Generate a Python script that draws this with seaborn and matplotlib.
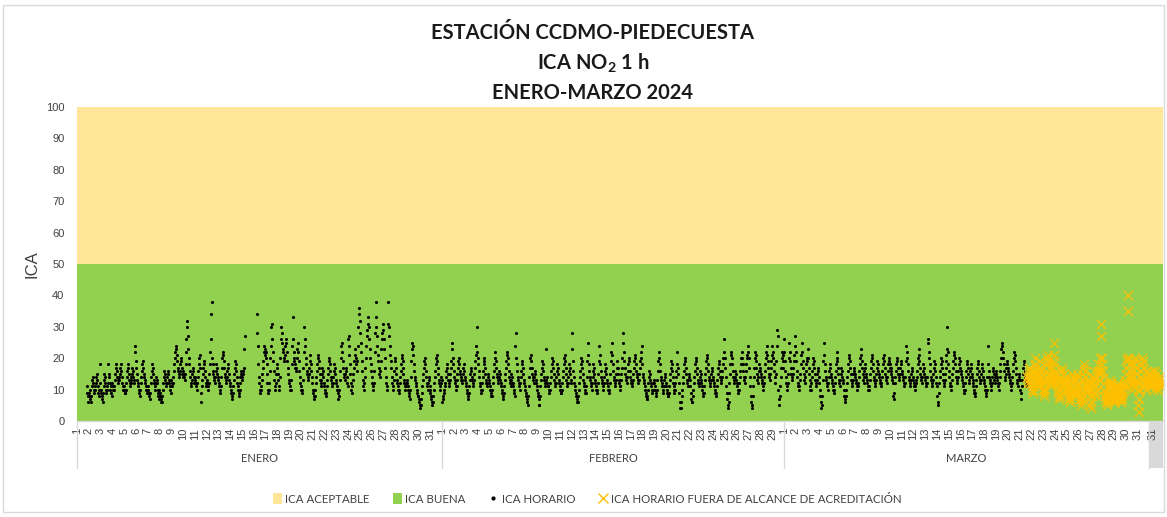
import numpy as np
import pandas as pd
import matplotlib
matplotlib.use("Agg")
import matplotlib.pyplot as plt
import matplotlib.transforms as mtransforms
from matplotlib.patches import Patch, Rectangle
from matplotlib.lines import Line2D
import seaborn as sns

# ---- Hourly ICA NO2 values, one string of 24 hours per day ('.' = no data) ----
enero = [
    ". . . . . . . . . . . . . . . . . . . . 11 9 8 6",
    "9 8 10 7 6 8 11 13 14 12 10 9 11 10 12 14 15 13 11 9 10 8 12 18",
    "10 9 8 7 6 9 11 13 15 14 12 10 9 11 10 12 18 15 14 12 10 11 9 8",
    "12 11 10 10 11 13 15 17 18 16 14 13 12 13 14 15 17 18 16 14 12 11 10 11",
    "10 9 9 10 12 14 16 18 17 15 13 12 11 12 14 13 15 17 16 14 13 12 24 22",
    "19 17 15 13 12 11 10 9 8 10 12 14 16 18 19 17 15 14 13 12 11 10 9 10",
    "11 10 9 8 7 9 12 14 16 18 17 15 13 12 11 10 12 14 13 12 10 9 8 7",
    "10 9 8 7 6 6 8 10 12 14 16 15 13 12 11 12 14 16 15 13 12 11 10 9",
    "13 12 11 12 14 16 18 20 22 24 23 21 19 17 16 15 14 16 18 20 19 17 15 14",
    "16 15 14 13 15 18 22 26 30 32 27 23 20 18 16 14 12 11 13 15 17 16 14 12",
    "14 13 12 11 10 12 14 16 18 20 21 17 6 9 11 13 15 17 19 18 16 14 12 11",
    "13 12 11 10 12 15 18 22 26 34 38 20 18 16 15 14 13 12 14 16 18 17 15 14",
    "13 12 11 10 9 11 14 17 20 22 21 19 17 15 14 13 12 14 16 18 17 15 13 12",
    "11 10 9 8 7 9 11 13 15 17 19 18 16 14 12 11 10 9 8 10 12 14 16 15",
    "13 14 15 16 17 23 27 . . . . . . . . . . . . . . . . .",
    ". . . . . . 34 28 24 18 14 12 10 9 10 11 13 15 17 19 22 24 23 21",
    "22 20 18 15 12 10 9 10 12 16 20 24 30 31 26 22 19 16 13 11 10 12 15 18",
    "17 15 13 11 10 14 20 26 30 28 25 23 22 20 19 21 24 26 25 22 19 17 15 13",
    "12 11 10 10 13 18 24 33 26 22 20 19 18 17 16 17 20 23 25 22 19 16 14 12",
    "11 10 9 10 13 17 22 30 26 24 20 18 16 15 14 13 15 17 19 21 18 16 14 12",
    "10 9 8 7 8 10 12 14 16 18 20 21 19 17 15 13 12 11 13 15 17 16 14 12",
    "11 10 9 8 9 11 13 15 17 19 20 18 16 14 13 12 11 12 14 16 18 17 15 13",
    "12 11 10 9 7 8 10 13 16 20 24 25 22 19 17 15 14 13 15 17 16 14 12 11",
    "26 27 24 21 18 15 12 10 9 11 13 15 17 19 21 23 20 18 16 19 24 30 34 36",
    "32 28 25 22 19 16 13 11 10 12 14 17 20 24 27 29 31 33 30 26 23 20 18 16",
    "14 12 11 10 12 16 22 28 38 33 30 27 24 21 19 17 15 14 16 19 23 26 28 31",
    "29 26 23 20 17 14 12 10 11 38 31 30 27 24 21 19 17 14 12 11 10 13 16 20",
    "19 17 15 13 12 11 10 9 10 12 14 16 18 20 21 19 17 15 13 12 11 10 11 12",
    "13 12 11 10 9 8 7 10 14 19 23 25 24 21 18 16 14 13 12 11 10 9 8 8",
    "7 6 5 4 5 7 9 11 13 15 17 19 20 18 16 14 12 11 10 12 14 13 11 10",
    "9 8 7 6 5 6 8 10 12 14 16 18 20 21 19 17 15 13 12 11 10 12 14 13",
]

febrero = [
    "6 7 8 9 10 11 12 14 16 18 17 15 13 12 11 13 15 17 19 25 23 20 18 16",
    "14 13 12 11 10 11 13 15 17 19 20 18 16 15 14 13 12 13 15 17 18 16 14 13",
    "12 11 10 9 8 7 9 11 13 15 17 16 14 13 12 11 13 15 17 19 21 24 30 22",
    "20 18 16 14 12 11 10 9 10 12 14 16 18 19 20 17 15 13 12 11 12 14 15 13",
    "12 11 10 9 8 8 10 12 14 16 18 20 22 19 17 15 14 13 12 14 16 15 13 12",
    "11 10 9 8 7 9 11 13 15 17 19 21 22 20 18 16 14 13 12 11 13 15 14 12",
    "12 11 10 9 8 24 28 20 18 16 14 13 12 11 10 12 14 16 18 19 17 15 13 12",
    "11 10 9 8 7 6 5 8 11 14 17 20 21 19 17 15 14 13 12 14 16 15 13 12",
    "11 10 9 8 7 5 5 8 11 13 15 17 19 18 16 14 13 12 11 13 23 14 12 11",
    "11 10 9 10 12 14 16 18 20 19 17 15 13 12 11 12 14 16 18 17 15 13 12 11",
    "10 9 9 10 12 14 16 18 20 21 19 17 15 13 12 11 12 14 16 18 17 15 13 12",
    "28 23 19 16 14 12 11 10 9 8 7 6 6 8 10 12 14 16 18 20 19 17 15 13",
    "12 11 10 9 9 11 14 19 25 21 18 16 14 13 12 11 10 12 14 16 18 17 15 13",
    "12 11 10 9 10 12 15 19 24 21 18 16 14 13 12 11 10 12 14 16 18 17 15 13",
    "12 11 10 9 10 12 15 19 22 25 21 18 16 14 13 12 11 13 15 17 19 17 15 13",
    "12 11 10 11 13 15 17 20 25 28 22 19 17 15 14 13 12 14 16 18 20 19 16 14",
    "13 12 11 12 13 15 17 19 21 20 18 16 15 14 13 12 13 15 17 19 20 22 24 18",
    "15 14 13 12 11 10 9 8 7 7 8 10 12 14 16 15 13 12 11 10 9 10 12 13",
    "12 11 10 9 8 10 13 16 19 22 20 18 16 14 13 12 11 10 9 11 13 15 14 12",
    "11 10 9 8 8 9 11 13 15 17 19 18 16 14 12 11 10 9 10 12 14 16 18 22",
    "17 15 12 9 6 4 4 6 8 10 12 14 16 18 20 19 17 15 13 12 11 13 15 14",
    "13 11 9 7 6 6 8 10 12 14 16 18 20 19 17 15 13 12 11 12 14 16 15 13",
    "12 11 10 9 8 9 11 13 15 17 19 21 20 18 16 14 13 12 11 13 15 17 16 14",
    "13 12 11 10 9 8 9 11 13 15 17 19 18 16 14 13 12 14 16 18 20 22 26 20",
    "17 14 11 9 7 5 4 6 9 12 15 18 21 22 20 18 16 14 13 12 14 16 15 13",
    "12 11 10 9 10 12 14 16 18 20 22 20 18 16 14 13 12 14 16 18 20 21 22 24",
    "20 17 14 11 8 6 4 5 8 11 14 17 20 22 21 19 17 15 13 12 14 16 18 17",
    "16 15 14 13 12 11 10 12 14 16 18 20 22 24 21 19 17 15 14 13 15 17 19 21",
    "24 22 20 18 16 14 12 15 19 24 29 27 10 7 5 8 11 14 17 20 22 21 19 17",
]

marzo = [
    "26 22 19 16 14 12 11 10 12 15 20 25 22 19 17 15 14 13 15 17 19 21 24 27",
    "22 19 16 14 12 11 10 11 13 15 18 21 25 22 19 17 15 13 12 14 16 18 20 19",
    "23 20 17 15 13 11 10 10 12 14 16 18 20 19 17 15 13 12 11 13 15 17 16 14",
    "12 10 8 6 4 5 8 13 19 25 21 18 16 14 13 12 11 10 12 14 16 18 17 15",
    "14 13 12 11 10 9 10 12 14 16 18 20 22 19 17 15 13 12 11 13 15 17 16 14",
    "13 12 10 8 7 6 8 10 12 14 16 18 20 21 19 17 15 13 12 11 13 15 17 16",
    "15 14 13 12 11 10 11 12 14 16 18 20 23 21 19 17 15 13 12 14 16 18 17 15",
    "14 13 12 11 10 10 11 13 15 17 19 21 20 18 16 14 13 12 11 13 15 17 19 18",
    "16 15 14 13 12 11 12 14 16 18 20 21 19 17 15 14 13 12 14 16 18 20 19 17",
    "18 17 16 15 14 13 12 8 7 9 12 14 16 18 20 19 17 15 14 13 15 17 19 18",
    "16 15 14 13 12 11 12 14 19 24 22 20 18 16 14 13 12 11 13 15 17 16 14 13",
    "12 11 10 11 12 13 14 16 18 20 23 21 19 17 15 14 13 12 14 16 18 17 15 14",
    "13 12 11 12 14 25 26 22 20 18 16 14 13 12 11 13 15 17 19 18 16 14 12 11",
    "8 5 6 9 12 14 16 18 20 19 17 15 13 12 11 13 15 17 19 21 23 30 22 18",
    "16 14 12 11 10 11 13 15 17 19 21 22 20 18 16 14 13 12 14 16 18 20 19 17",
    "16 15 14 13 12 11 10 9 10 12 14 16 18 19 17 15 13 12 14 16 18 17 15 14",
    "13 12 11 10 9 8 9 11 13 15 17 19 18 16 14 13 12 13 15 17 18 16 14 13",
    "12 11 10 9 8 10 14 24 18 16 14 13 12 11 10 12 14 16 17 15 13 12 14 16",
    "15 14 13 12 11 10 12 14 16 18 20 23 25 24 22 20 18 16 14 13 15 17 19 18",
    "17 16 15 14 13 12 11 10 12 14 16 18 20 22 21 19 17 15 13 12 11 13 15 14",
    "13 10 7 9 11 13 15 17 19 18 16 14 13 12 11 12 . . . . . . . .",
]

# Hours measured outside the accreditation range (from 21 March onwards)
marzo_fuera = [
    ". . . . . . . . . . . . . . . . 14 13 12 15 17 16 14 12",
    "12 11 10 9 10 13 16 18 20 17 15 14 13 12 11 13 15 17 19 16 14 12 11 10",
    "10 9 8 10 12 14 16 18 20 21 19 17 15 14 13 12 11 13 15 17 19 21 25 18",
    "16 15 14 13 12 11 10 9 8 7 8 10 12 14 16 17 15 13 12 11 10 12 14 13",
    "12 11 10 9 8 7 6 7 9 11 13 15 14 12 10 9 8 9 11 13 15 14 12 11",
    "10 9 8 7 6 5 7 9 11 13 15 17 18 16 14 12 11 10 9 11 13 12 10 8",
    "5 4 6 8 10 12 14 16 13 11 9 8 10 12 14 16 18 15 13 16 20 27 31 20",
    "18 16 14 12 10 9 8 7 6 5 6 7 8 9 10 11 12 13 12 11 10 9 8 7",
    "7 6 6 7 8 9 10 11 12 11 10 9 8 7 6 6 7 8 9 10 11 12 11 13",
    "15 17 19 20 40 35 20 18 16 14 13 12 11 10 12 14 16 18 20 19 17 15 13 12",
    "12 10 5 3 7 10 12 14 16 18 20 19 17 15 13 12 11 10 12 14 16 15 13 12",
]
cierre_fuera = "11 12 13 14 15 16 14 12 11 10 12 14 16 15 13 12 11 10 12 14 13 12 11 12"

meses = ["ENERO", "FEBRERO", "MARZO"]
dias_mes = [31, 29, 31]
franja_buena = (0, 50)
franja_aceptable = (50, 100)


def a_horas(dias, inicio):
    xs, ys = [], []
    for i, fila in enumerate(dias):
        for h, v in enumerate(fila.split()):
            if v != ".":
                xs.append(inicio + 24 * i + h)
                ys.append(float(v))
    return xs, ys


inicio_mes = np.concatenate([[0], np.cumsum(dias_mes) * 24])  # 0, 744, 1440, 2184
x_h, y_h = [], []
for dias, ini in zip([enero, febrero, marzo], inicio_mes[:3]):
    a, b = a_horas(dias, ini)
    x_h += a
    y_h += b
horario = pd.DataFrame({"hora": x_h, "ica": y_h})

a, b = a_horas(marzo_fuera, inicio_mes[2] + 24 * 20)
c, d = a_horas([cierre_fuera], inicio_mes[3])
fuera = pd.DataFrame({"hora": a + c, "ica": b + d})
x_fin = inicio_mes[3] + 28

# ---- Figure ----
sns.set_theme(style="white")
plt.rcParams["font.family"] = ["Lato", "DejaVu Sans"]
plt.rcParams["mathtext.fontset"] = "custom"
plt.rcParams["mathtext.rm"] = "Lato:bold"
plt.rcParams["mathtext.default"] = "rm"

fig = plt.figure(figsize=(11.67, 5.17), dpi=100)
ax = fig.add_axes([77 / 1167, 96 / 517, 1086 / 1167, 314 / 517])

ax.axhspan(*franja_aceptable, color="#FFE699", lw=0, zorder=0)
ax.axhspan(*franja_buena, color="#92D050", lw=0, zorder=0)

sns.scatterplot(data=horario, x="hora", y="ica", color="black", s=5,
                linewidth=0, ax=ax, legend=False, zorder=3)
sns.scatterplot(data=fuera, x="hora", y="ica", color="#FFC000", marker="x",
                s=42, linewidth=0.9, ax=ax, legend=False, zorder=4)

ax.set_xlim(0, x_fin)
ax.set_ylim(0, 100)
ax.set_xlabel("")
ax.set_ylabel("ICA", fontsize=12, color="#404040", family="Liberation Sans", labelpad=5)

ax.set_yticks(range(0, 101, 10))
ax.tick_params(axis="y", length=0, pad=9, labelsize=8, labelcolor="#404040")
for t in ax.get_yticklabels():
    t.set_family("Liberation Sans")

# day ticks at the start of each day
pos, lab = [], []
for ini, n in zip(inicio_mes[:3], dias_mes):
    for dd in range(1, n + 1):
        pos.append(ini + 24 * (dd - 1))
        lab.append(str(dd))
pos.append(inicio_mes[3] + 7)
lab.append("31")
ax.set_xticks(pos)
ax.set_xticklabels(lab, rotation=90, fontsize=8, color="#404040", family="Liberation Sans")
ax.tick_params(axis="x", length=0, pad=5)

for s in ["top", "right", "left"]:
    ax.spines[s].set_visible(False)
ax.spines["bottom"].set_color("#d9d9d9")
ax.spines["bottom"].set_linewidth(1)

trans = mtransforms.blended_transform_factory(ax.transData, ax.transAxes)
y_bajo = -47 / 314
ax.add_patch(Rectangle((inicio_mes[3], y_bajo), x_fin - inicio_mes[3], -y_bajo,
                       transform=trans, facecolor="#d9d9d9", edgecolor="none",
                       clip_on=False, zorder=0))
for xv in inicio_mes:
    ax.plot([xv, xv], [0, y_bajo], transform=trans, color="#d9d9d9", lw=1,
            clip_on=False, zorder=1)
for mes, ini, fin in zip(meses, inicio_mes[:3], inicio_mes[1:]):
    ax.text((ini + fin) / 2, -38 / 314, mes, transform=trans, ha="center",
            va="center", fontsize=8, color="#404040")

# Title
titulo = ["ESTACIÓN CCDMO-PIEDECUESTA", r"ICA NO$_{2}$ 1 h", "ENERO-MARZO 2024"]
for linea, y_px in zip(titulo, [33, 63, 93]):
    fig.text(0.508, 1 - y_px / 517, linea, ha="center", va="center",
             fontsize=14.5, fontweight="bold", color="#1a1a1a")

# Legend
handles = [
    Patch(facecolor="#FFE699", edgecolor="none", label="ICA ACEPTABLE"),
    Patch(facecolor="#92D050", edgecolor="none", label="ICA BUENA"),
    Line2D([], [], ls="none", marker="o", ms=2, color="black", label="ICA HORARIO"),
    Line2D([], [], ls="none", marker="x", ms=7, mew=1, color="#FFC000",
           label="ICA HORARIO FUERA DE ALCANCE DE ACREDITACIÓN"),
]
fig.legend(handles=handles, loc="center", bbox_to_anchor=(0.503, 1 - 499 / 517),
           ncol=4, frameon=False, fontsize=8.3, handlelength=0.8, handleheight=1.0,
           handletextpad=0.3, columnspacing=2.0, labelcolor="#404040")

# chart frame
fig.patches.append(Rectangle((3 / 1167, 5 / 517), 1161 / 1167, 507 / 517,
                             transform=fig.transFigure, fill=False,
                             edgecolor="#d9d9d9", lw=1))

fig.savefig("out.png", dpi=100, facecolor="white")
